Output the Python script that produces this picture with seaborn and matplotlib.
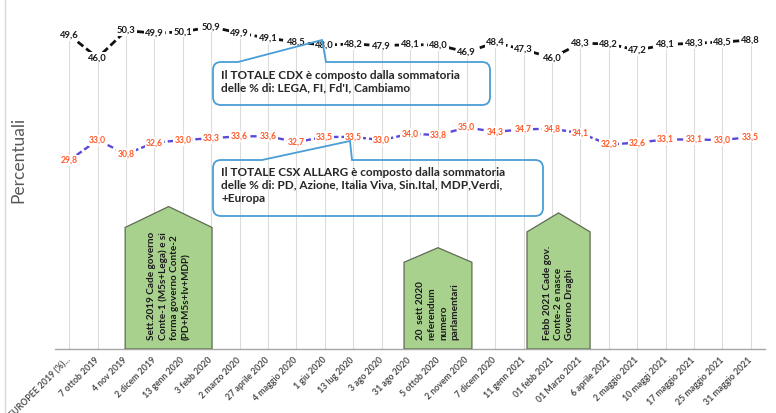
import numpy as np
import matplotlib
matplotlib.use("Agg")
import matplotlib.pyplot as plt
import seaborn as sns
from matplotlib.path import Path
from matplotlib.patches import PathPatch, Polygon
from matplotlib.transforms import Affine2D

# ---- data -------------------------------------------------------------
dates = ["EUROPEE 2019 (%)...", "7 ottob 2019", "4 nov 2019", "2 dicem 2019",
         "13 genn 2020", "3 febb 2020", "2 marzo 2020", "27 aprile 2020",
         "4 maggio 2020", "1 giu 2020", "13 lug 2020", "3 ago 2020",
         "31 ago 2020", "5 ottob 2020", "2 novem 2020", "7 dicem 2020",
         "11 genn 2021", "01 febb 2021", "01 Marzo 2021", "6 aprile 2021",
         "2 maggio 2021", "10 maggi 2021", "17 maggio 2021", "25 maggio 2021",
         "31 maggio 2021"]
totale_cdx = [49.6, 46.0, 50.3, 49.9, 50.1, 50.9, 49.9, 49.1, 48.5, 48.0,
              48.2, 47.9, 48.1, 48.0, 46.9, 48.4, 47.3, 46.0, 48.3, 48.2,
              47.2, 48.1, 48.3, 48.5, 48.8]
totale_csx = [29.8, 33.0, 30.8, 32.6, 33.0, 33.3, 33.6, 33.6, 32.7, 33.5,
              33.5, 33.0, 34.0, 33.8, 35.0, 34.3, 34.7, 34.8, 34.1, 32.3,
              32.6, 33.1, 33.1, 33.0, 33.5]

eventi = [
    "Sett.2019 Cade governo\nConte-1 (M5s+Lega) e si\nforma governo Conte-2\n(PD+M5s+Iv+MDP)",
    "20  sett 2020\nreferendum\nnumero\nparlamentari",
    "Febb 2021 Cade gov.\nConte-2 e nasce\nGoverno Draghi",
]
nota_cdx = "Il TOTALE CDX è composto dalla sommatoria\ndelle % di: LEGA, FI, Fd'I, Cambiamo"
nota_csx = ("Il TOTALE CSX ALLARG è composto dalla sommatoria\n"
            "delle % di: PD, Azione, Italia Viva, Sin.Ital, MDP,Verdi,\n+Europa")

# ---- style ------------------------------------------------------------
sns.set_theme(style="white")
plt.rcParams["font.family"] = ["Lato", "DejaVu Sans"]

W, H = 776, 413
fig = plt.figure(figsize=(W / 100, H / 100), dpi=100)
fig.patch.set_facecolor("white")
# pixel coordinates, origin top-left
px = Affine2D().scale(1 / W, -1 / H).translate(0, 1) + fig.transFigure

ax_l, ax_r, ax_t, ax_b = 55, 765, 4, 349
ax = fig.add_axes([ax_l / W, (H - ax_b) / H, (ax_r - ax_l) / W, (ax_b - ax_t) / H])
ax.set_facecolor("none")

idx = np.arange(len(dates))
cdx = np.array(totale_cdx)
csx = np.array(totale_csx)

# drop lines from the top series down to the axis
ax.vlines(idx, 0, np.maximum(cdx, csx), color="#dcdcdc", lw=0.8, zorder=0)

sns.lineplot(x=idx, y=cdx, ax=ax, color="#111111", lw=2.0,
             linestyle=(0, (2.6, 1.3)), zorder=3)
sns.lineplot(x=idx, y=csx, ax=ax, color="#5a48d8", lw=1.7,
             linestyle=(0, (2.6, 1.3)), zorder=3)

for i, v in zip(idx, cdx):
    ax.text(i, v, f"{v:.1f}".replace(".", ","), ha="center", va="center",
            fontsize=6.8, fontweight="bold", color="#1a1a1a", zorder=5,
            bbox=dict(boxstyle="square,pad=0.12", fc="white", ec="none"))
for i, v in zip(idx, csx):
    ax.text(i, v, f"{v:.1f}".replace(".", ","), ha="center", va="center",
            fontsize=6.2, fontweight="bold", color="#ff5a2a", zorder=5,
            bbox=dict(boxstyle="square,pad=0.12", fc="white", ec="none"))

ax.set_xlim(-0.5, len(dates) - 0.5)
ax.set_ylim(0, 54.5)
ax.set_yticks([])
ax.set_xticks(idx)
ax.set_xticklabels(dates, rotation=45, ha="right", va="center",
                   rotation_mode="anchor", fontsize=6.3, fontweight="bold",
                   color="#4d4d4d")
ax.tick_params(axis="x", length=0, pad=7)
for s in ["left", "right", "top"]:
    ax.spines[s].set_visible(False)
ax.spines["bottom"].set_color("#a6a6a6")
ax.spines["bottom"].set_linewidth(1.0)
ax.set_xlabel("")

# event arrows (pentagon shapes) with rotated captions
shapes = [(1.97, 5.03, 19.2, 22.5), (11.79, 14.18, 13.7, 16.0), (16.12, 18.34, 18.5, 21.5)]
for (x0, x1, ys, ya), txt in zip(shapes, eventi):
    xc = (x0 + x1) / 2
    ax.add_patch(Polygon([(x0, 0), (x0, ys), (xc, ya), (x1, ys), (x1, 0)],
                         closed=True, fc="#a9d18e", ec="#5f6b55", lw=0.9, zorder=4))
    ax.text(xc, 1.4, txt, rotation=90, ha="center", va="bottom",
            multialignment="left", fontsize=7.2, fontweight="bold",
            color="#1a1a1a", linespacing=1.35, zorder=6)


def callout(x0, y0, x1, y1, bl, apex, br, r=8):
    verts = [(br, y0), (x1 - r, y0), (x1, y0), (x1, y0 + r), (x1, y1 - r),
             (x1, y1), (x1 - r, y1), (x0 + r, y1), (x0, y1), (x0, y1 - r),
             (x0, y0 + r), (x0, y0), (x0 + r, y0), (bl, y0), apex, (br, y0)]
    codes = [Path.MOVETO, Path.LINETO, Path.CURVE3, Path.CURVE3, Path.LINETO,
             Path.CURVE3, Path.CURVE3, Path.LINETO, Path.CURVE3, Path.CURVE3,
             Path.LINETO, Path.CURVE3, Path.CURVE3, Path.LINETO, Path.LINETO,
             Path.CLOSEPOLY]
    fig.add_artist(PathPatch(Path(verts, codes), transform=px, fc="none",
                             ec="#4a9ed6", lw=1.3, zorder=7))


callout(213, 62, 490, 105, 238, (322, 40), 326)
callout(213, 160, 543, 216, 262, (350, 141), 352)

fig.text(221, 70, nota_cdx, transform=px, ha="left", va="top", fontsize=8.5,
         fontweight="bold", color="#262626", linespacing=1.2)
fig.text(221, 167, nota_csx, transform=px, ha="left", va="top", fontsize=8.5,
         fontweight="bold", color="#262626", linespacing=1.2)

fig.text(18, 160, "Percentuali", transform=px, rotation=90, ha="center",
         va="center", fontsize=12.5, color="#595959")

# chart frame edge on the left
fig.add_artist(plt.Line2D([5, 5], [0, 413], transform=px, color="#d9d9d9", lw=1))

fig.savefig("out.png", dpi=100)
